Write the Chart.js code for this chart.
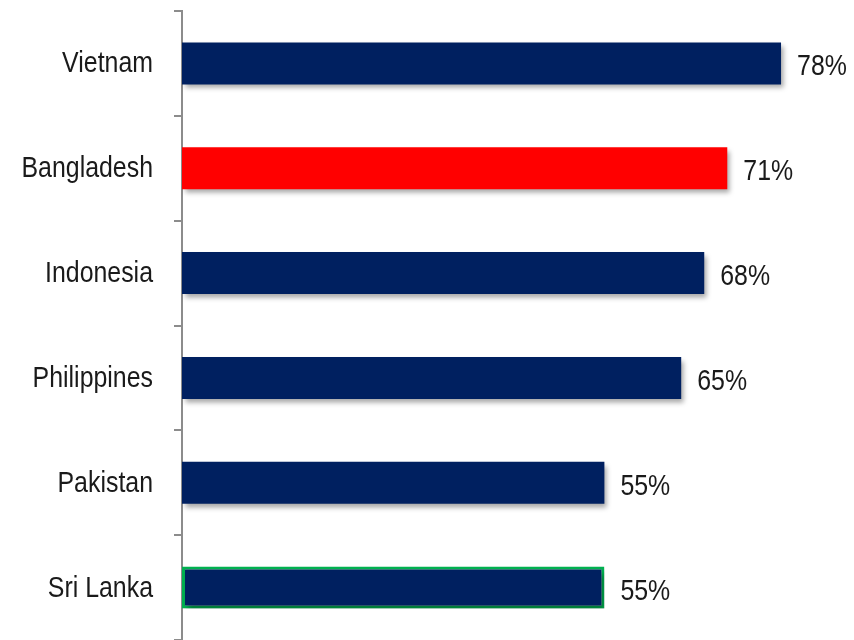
<!DOCTYPE html>
<html>
<head>
<meta charset="utf-8">
<script src="https://cdn.jsdelivr.net/npm/chart.js@4"></script>
<style>
  html, body { margin: 0; padding: 0; background: #fff; }
  #wrap { width: 854px; height: 640px; }
</style>
</head>
<body>
<div id="wrap"><canvas id="countryChart"></canvas></div>
<script>
const countries = ['Vietnam', 'Bangladesh', 'Indonesia', 'Philippines', 'Pakistan', 'Sri Lanka'];
const shares = [78, 71, 68, 65, 55, 55];
const barColors = ['#002060', '#ff0000', '#002060', '#002060', '#002060', '#002060'];
const edgeColors = ['#002060', '#ff0000', '#002060', '#002060', '#002060', '#00b050'];
const edgeWidths = [0, 0, 0, 0, 0, 3];

const FONT = "'Liberation Sans', Arial, sans-serif";
const NARROW = 0.83; // squeeze text to a narrow face

function narrowText(ctx, text, x, y, align) {
  ctx.save();
  ctx.translate(x, y);
  ctx.scale(NARROW, 1);
  ctx.textAlign = align;
  ctx.fillText(text, 0, 0);
  ctx.restore();
}

// soft drop shadow under the bars
const barShadow = {
  id: 'barShadow',
  beforeDatasetDraw(chart) {
    const ctx = chart.ctx;
    ctx.save();
    ctx.shadowColor = 'rgba(0,0,0,0.35)';
    ctx.shadowBlur = 5;
    ctx.shadowOffsetX = 3;
    ctx.shadowOffsetY = 4;
  },
  afterDatasetDraw(chart) {
    chart.ctx.restore();
  }
};

// country names beside the axis and percentages after each bar
const textLabels = {
  id: 'textLabels',
  afterDatasetsDraw(chart) {
    const ctx = chart.ctx;
    const yScale = chart.scales.y;
    const meta = chart.getDatasetMeta(0);
    ctx.save();
    ctx.font = '30px ' + FONT;
    ctx.fillStyle = '#1a1a1a';
    ctx.textBaseline = 'alphabetic';
    chart.data.labels.forEach((name, i) => {
      narrowText(ctx, name, yScale.right - 29, yScale.getPixelForTick(i) + 9, 'right');
    });
    meta.data.forEach((bar, i) => {
      narrowText(ctx, shares[i] + '%', bar.x + 16, bar.y + 12, 'left');
    });
    ctx.restore();
  }
};

new Chart(document.getElementById('countryChart'), {
  type: 'bar',
  data: {
    labels: countries,
    datasets: [{
      data: shares,
      backgroundColor: barColors,
      borderColor: edgeColors,
      borderWidth: edgeWidths,
      borderSkipped: false,
      barPercentage: 0.4,
      categoryPercentage: 1
    }]
  },
  options: {
    indexAxis: 'y',
    responsive: true,
    maintainAspectRatio: false,
    animation: false,
    layout: { autoPadding: false, padding: { top: 11, right: 0, bottom: -3, left: 0 } },
    plugins: {
      legend: { display: false },
      tooltip: { enabled: false }
    },
    scales: {
      x: {
        display: false,
        min: 0,
        max: 87.5
      },
      y: {
        afterFit(scale) { scale.width = 182; },
        border: { display: true, color: '#8c8c8c', width: 2 },
        grid: {
          offset: true,
          drawOnChartArea: false,
          drawTicks: true,
          tickLength: 8,
          color: '#8c8c8c',
          lineWidth: 2
        },
        ticks: { display: false }
      }
    }
  },
  plugins: [barShadow, textLabels]
});
</script>
</body>
</html>
